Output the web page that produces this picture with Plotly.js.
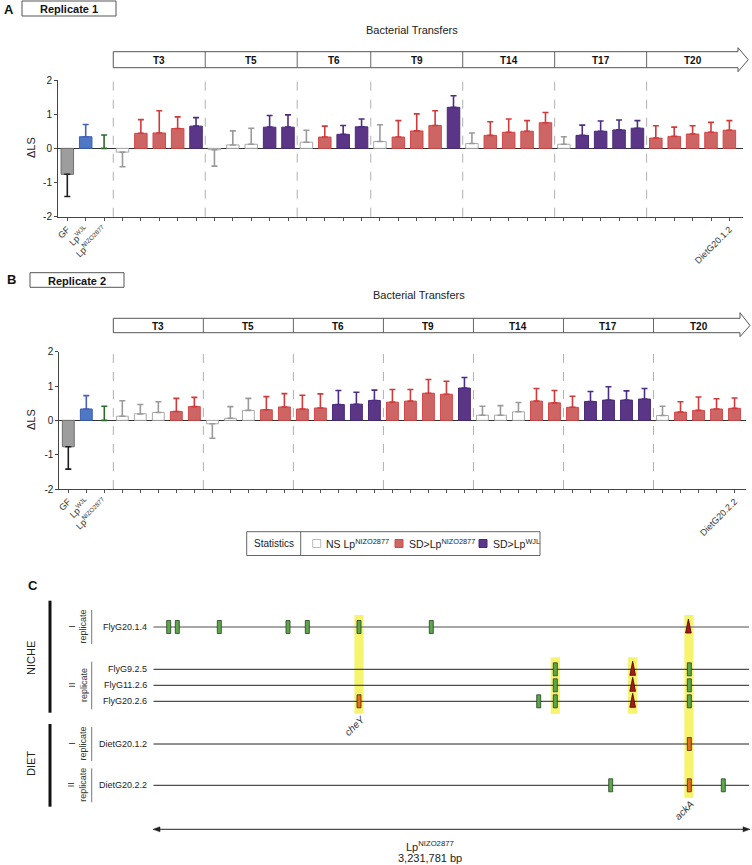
<!DOCTYPE html>
<html><head><meta charset="utf-8">
<script src="https://cdn.plot.ly/plotly-3.0.1.min.js"></script>
<style>html,body{margin:0;padding:0;background:#fff}#chart{width:752px;height:865px}</style>
</head><body><div id="chart"></div>
<script>
const W = 752, H = 865;
// ---------- data: panels A and B ----------
const transfers = ['T3','T5','T6','T9','T14','T17','T20'];
const controls = ['GF','Lp<sup>WJL</sup>','Lp<sup>NIZO2877</sup>'];
const countsA = [5,5,4,5,5,5,5];
const countsB = [5,5,5,5,5,5,5];
const valuesA = [
 -0.76, 0.34, 0,
 -0.11, 0.44, 0.45, 0.58, 0.65,
 -0.04, 0.10, 0.12, 0.62, 0.62,
  0.18, 0.33, 0.41, 0.63,
  0.20, 0.33, 0.51, 0.67, 1.20,
  0.14, 0.38, 0.47, 0.50, 0.75,
  0.12, 0.38, 0.50, 0.54, 0.59,
  0.30, 0.35, 0.42, 0.47, 0.53];
const errorsA = [
  0.65, 0.36, 0.39,
  0.43, 0.40, 0.65, 0.34, 0.25,
  0.48, 0.41, 0.47, 0.34, 0.36,
  0.35, 0.32, 0.26, 0.23,
  0.49, 0.48, 0.50, 0.43, 0.34,
  0.31, 0.40, 0.39, 0.31, 0.30,
  0.22, 0.30, 0.30, 0.29, 0.22,
  0.36, 0.27, 0.24, 0.29, 0.28];
const classesA = ['GF','WJL','NIZO',
 'NS','SDN','SDN','SDN','SDW',
 'NS','NS','NS','SDW','SDW',
 'NS','SDN','SDW','SDW',
 'NS','SDN','SDN','SDN','SDW',
 'NS','SDN','SDN','SDN','SDN',
 'NS','SDW','SDW','SDW','SDW',
 'SDN','SDN','SDN','SDN','SDN'];
const valuesB = [
 -0.77, 0.33, 0,
  0.12, 0.19, 0.23, 0.26, 0.40,
 -0.10, 0.06, 0.29, 0.31, 0.39,
  0.33, 0.36, 0.46, 0.47, 0.58,
  0.53, 0.56, 0.79, 0.76, 0.94,
  0.15, 0.15, 0.25, 0.56, 0.51,
  0.38, 0.55, 0.59, 0.59, 0.62,
  0.14, 0.24, 0.29, 0.33, 0.35];
const errorsB = [
  0.65, 0.39, 0.41,
  0.45, 0.27, 0.31, 0.38, 0.27,
  0.42, 0.34, 0.35, 0.38, 0.39,
  0.40, 0.41, 0.41, 0.35, 0.30,
  0.37, 0.34, 0.40, 0.38, 0.31,
  0.26, 0.28, 0.27, 0.37, 0.36,
  0.32, 0.29, 0.39, 0.27, 0.31,
  0.27, 0.30, 0.39, 0.30, 0.30];
const classesB = ['GF','WJL','NIZO',
 'NS','NS','NS','SDN','SDN',
 'NS','NS','NS','SDN','SDN',
 'SDN','SDN','SDW','SDW','SDW',
 'SDN','SDN','SDN','SDN','SDW',
 'NS','NS','NS','SDN','SDN',
 'SDN','SDW','SDW','SDW','SDW',
 'NS','SDN','SDN','SDN','SDN'];
const lastLabelA = 'DietG20.1.2';
const lastLabelB = 'DietG20.2.2';

// ---------- data: panel C ----------
const samples = ['FlyG20.1.4','FlyG9.2.5','FlyG11.2.6','FlyG20.2.6','DietG20.1.2','DietG20.2.2'];
const genomeLength = 3231781;
const mutSample = [0,0,0,0,0,0,0,0, 1,1,1, 2,2,2, 3,3,3,3,3, 4, 5,5,5];
const mutPos = [83500,130200,358100,730800,835500,1116000,1508200,2903000,
                2180900,2600800,2908000,
                2180900,2600800,2908000,
                1116000,2090900,2180900,2600800,2908000,
                2908000,
                2481500,2908000,3092400];
const mutType = ['snv','snv','snv','snv','snv','snv','snv','ins',
                 'snv','ins','snv',
                 'snv','ins','snv',
                 'fix','snv','snv','ins','snv',
                 'fix',
                 'snv','fix','snv'];
const hlPos = [1116000,2180900,2600800,2906000];
const hlFirst = [0,1,1,0];
const hlLast = [3,3,3,5];
const genes = ['cheY','ackA'];
const genePos = [1116000,2906000];
const geneCol = [0,3];
const legendItems = ['NS Lp<sup>NIZO2877</sup>','SD>Lp<sup>NIZO2877</sup>','SD>Lp<sup>WJL</sup>'];
const legendClasses = ['NS','SDN','SDW'];

// ---------- styles ----------
const FONT = 'Liberation Sans, Arial, sans-serif';
const style = {
  GF:  {fill:'#9d9d9d', line:'#6f6f6f', err:'#1e1e1e', lw:1},
  WJL: {fill:'#4e77c6', line:'#3c5fae', err:'#4a5fb8', lw:1},
  NIZO:{fill:'rgba(0,0,0,0)', line:'rgba(0,0,0,0)', err:'#2d6a2d', lw:0},
  NS:  {fill:'#ffffff', line:'#a8a8a8', err:'#9a9a9a', lw:1},
  SDN: {fill:'#cd6565', line:'#d44848', err:'#d03a3a', lw:1},
  SDW: {fill:'#5c3686', line:'#4a2a78', err:'#4d2c84', lw:1}
};
const mutStyle = {snv:{fill:'#5ea64c', line:'#23401f'}, fix:{fill:'#e0701f', line:'#4a2610'}, ins:{fill:'#b3141b', line:'#3a0808'}};
const rowY = [627, 669.3, 685.3, 701.3, 744, 785.3];

const panels = [
  {vals:valuesA, errs:errorsA, cls:classesA, counts:countsA, last:lastLabelA, xa:'x', ya:'y',
   xd:[58,743], yd:[80,216.7], range:[-0.506,36.74], bw:0.68,
   hdr:{top:51.7,bot:67.7,hTop:47.7,hBot:71.7,base:738,tip:748.3}, ttl:[412,29.5], dls:[31,148],
   letter:['A',9,9], rep:['Replicate 1',22,116,1,16]},
  {vals:valuesB, errs:errorsB, cls:classesB, counts:countsB, last:lastLabelB, xa:'x2', ya:'y2',
   xd:[59.3,745.7], yd:[351.7,489], range:[-0.5,37.62], bw:0.66,
   hdr:{top:318.3,bot:332.7,hTop:312.7,hBot:336.7,base:740,tip:750}, ttl:[419,294.5], dls:[31,420],
   letter:['B',11,279], rep:['Replicate 2',30,124,272.7,287.3]}
];

const traces = [];
const shapes = [];
const annotations = [];
const layout = {
  width:W, height:H, margin:{l:0,r:0,t:0,b:0}, paper_bgcolor:'#fff', plot_bgcolor:'rgba(0,0,0,0)',
  showlegend:false, barmode:'overlay', font:{family:FONT, color:'#222'},
  xaxis4:{domain:[0,1], range:[0,W], visible:false, fixedrange:true},
  yaxis4:{domain:[0,1], range:[H,0], visible:false, fixedrange:true, anchor:'x4'}
};
traces.push({type:'scatter', x:[], y:[], xaxis:'x4', yaxis:'y4', hoverinfo:'skip'});
const T = (x,y,text,o={}) => Object.assign({xref:'x4',yref:'y4',x:x,y:y,text:text,showarrow:false,
  font:{family:FONT,size:10,color:'#222'},xanchor:'center',yanchor:'middle'}, o);
const L = (x0,y0,x1,y1,color,width,dash) => ({type:'line',xref:'x4',yref:'y4',x0,y0,x1,y1,line:{color,width,dash:dash||'solid'}});

panels.forEach((p, pi) => {
  const n = p.vals.length;
  const sfx = pi === 0 ? '' : '2';
  const idx2px = i => p.xd[0] + (i - p.range[0]) / (p.range[1] - p.range[0]) * (p.xd[1] - p.xd[0]);
  Object.keys(style).forEach(c => {
    const xs=[], ys=[], up=[], dn=[];
    p.cls.forEach((k,i) => { if (k === c) { xs.push(i); ys.push(p.vals[i]);
      if (p.vals[i] < 0) { up.push(0); dn.push(p.errs[i]); } else { up.push(p.errs[i]); dn.push(0); } } });
    if (!xs.length) return;
    const s = style[c];
    traces.push({type:'bar', x:xs, y:ys, width:p.bw, xaxis:p.xa, yaxis:p.ya, hoverinfo:'skip',
      marker:{color:s.fill, line:{color:s.line, width:s.lw}},
      error_y:{type:'data', symmetric:false, array:up, arrayminus:dn, color:s.err, thickness:1.6, width:3}});
  });
  const tickvals = [], ticktext = [];
  for (let i=0;i<n;i++){ tickvals.push(i); ticktext.push(i<3 ? controls[i] : (i===n-1 ? p.last : ' ')); }
  layout['xaxis'+sfx] = {domain:[p.xd[0]/W, p.xd[1]/W], range:p.range, anchor:p.ya, showgrid:false, zeroline:false,
    showline:true, linecolor:'#444', linewidth:1, ticks:'outside', ticklen:3, tickcolor:'#555', tickwidth:1,
    tickvals:tickvals, ticktext:ticktext, tickangle:-45, tickfont:{family:FONT,size:9,color:'#333'}, fixedrange:true};
  layout['yaxis'+sfx] = {domain:[1-p.yd[1]/H, 1-p.yd[0]/H], range:[-2,2], anchor:p.xa, showgrid:false,
    zeroline:true, zerolinecolor:'#333', zerolinewidth:1, showline:true, linecolor:'#444', linewidth:1,
    ticks:'outside', ticklen:3, tickcolor:'#444', tickvals:[-2,-1,0,1,2], ticktext:['-2','-1','0','1','2'],
    tickfont:{family:FONT,size:10,color:'#222'}, fixedrange:true};
  let start = 3;
  const h = p.hdr;
  p.counts.forEach((c, g) => {
    const b = start - 0.5;
    shapes.push({type:'line', xref:p.xa, yref:p.ya+' domain', x0:b, x1:b, y0:0, y1:1, line:{color:'#b0b0b0', width:1, dash:'dash'}});
    if (g > 0) shapes.push({type:'line', xref:p.xa, yref:'y4', x0:b, x1:b, y0:h.top, y1:h.bot, line:{color:'#666', width:1}});
    annotations.push({xref:p.xa, yref:'y4', x:start+(c-1)/2, y:(h.top+h.bot)/2+0.5, text:'<b>'+transfers[g]+'</b>',
      showarrow:false, font:{family:FONT,size:10,color:'#111'}, xanchor:'center', yanchor:'middle'});
    start += c;
  });
  const left = idx2px(2.5), mid = (h.top+h.bot)/2;
  shapes.push({type:'path', xref:'x4', yref:'y4', line:{color:'#555', width:1}, fillcolor:'rgba(0,0,0,0)',
    path:`M${left},${h.top} L${h.base},${h.top} L${h.base},${h.hTop} L${h.tip},${mid} L${h.base},${h.hBot} L${h.base},${h.bot} L${left},${h.bot} Z`});
  annotations.push(T(p.ttl[0], p.ttl[1], 'Bacterial Transfers', {font:{family:FONT,size:11,color:'#222'}}));
  annotations.push(T(p.dls[0], p.dls[1], 'ΔLS', {textangle:-90, font:{family:FONT,size:11,color:'#222'}}));
  annotations.push(T(p.letter[1], p.letter[2], '<b>'+p.letter[0]+'</b>', {font:{family:FONT,size:13,color:'#111'}}));
  const r = p.rep;
  shapes.push({type:'rect', xref:'x4', yref:'y4', x0:r[1], x1:r[2], y0:r[3], y1:r[4], line:{color:'#555', width:1}, fillcolor:'#fff'});
  annotations.push(T((r[1]+r[2])/2, (r[3]+r[4])/2+0.5, '<b>'+r[0]+'</b>', {font:{family:FONT,size:11,color:'#111'}}));
});

// ---------- legend ----------
shapes.push({type:'rect', xref:'x4', yref:'y4', x0:246.7, x1:540, y0:531.7, y1:555.5, line:{color:'#666', width:1}, fillcolor:'#fff'});
shapes.push(L(300.7,531.7,300.7,555.5,'#666',1));
annotations.push(T(273.7, 543.6, 'Statistics', {font:{family:FONT,size:10,color:'#222'}}));
const legX = [312.7, 395, 479];
legendItems.forEach((t,i) => {
  const s = style[legendClasses[i]];
  shapes.push({type:'rect', xref:'x4', yref:'y4', x0:legX[i], x1:legX[i]+8, y0:539.5, y1:547.5,
    line:{color: legendClasses[i]==='NS' ? '#bbb' : s.line, width:1}, fillcolor:s.fill});
  annotations.push(T(legX[i]+11.5, 543.6, t, {xanchor:'left', font:{family:FONT,size:10.5,color:'#222'}}));
});

// ---------- panel C ----------
layout.xaxis3 = {domain:[153.3/W, 749/W], range:[0, genomeLength], visible:false, fixedrange:true, anchor:'y3'};
layout.yaxis3 = {domain:[0,1], range:[H,0], visible:false, fixedrange:true, anchor:'x3'};
samples.forEach((s,i) => {
  traces.push({type:'scatter', mode:'lines', x:[0, genomeLength], y:[rowY[i], rowY[i]], xaxis:'x3', yaxis:'y3',
    hoverinfo:'skip', line:{color: i===0 ? '#888' : '#222', width: i===0 ? 1.6 : 1}});
  annotations.push(T(149, rowY[i], s, {xanchor:'right', font:{family:FONT,size:9,color:'#222'}}));
});
hlPos.forEach((x,i) => {
  shapes.push({type:'rect', layer:'below', xref:'x3', yref:'y3', xsizemode:'pixel', xanchor:x, x0:-4.6, x1:4.6,
    y0:rowY[hlFirst[i]]-12, y1:rowY[hlLast[i]]+12.5, line:{width:0}, fillcolor:'#f6f36c'});
});
mutPos.forEach((x,i) => {
  const st = mutStyle[mutType[i]];
  const base = {xref:'x3', yref:'y3', xsizemode:'pixel', ysizemode:'pixel', xanchor:x, yanchor:rowY[mutSample[i]],
    fillcolor:st.fill, line:{color:st.line, width:0.8}};
  if (mutType[i] === 'ins') shapes.push(Object.assign(base, {type:'path', path:'M0,8 L2.8,-6 L-2.8,-6 Z'}));
  else shapes.push(Object.assign(base, {type:'rect', x0:-2, x1:2, y0:-6.5, y1:6.5}));
});
genes.forEach((g,i) => {
  const c = geneCol[i];
  annotations.push({xref:'x3', yref:'y3', x:genePos[i], y:rowY[hlLast[c]]+12.5+12, text:'<i>'+g+'</i>', showarrow:false,
    textangle:-45, xshift:-4, font:{family:FONT,size:10,color:'#333'}, xanchor:'center', yanchor:'middle'});
});
shapes.push(L(50,600.7,50,712.7,'#111',3));
shapes.push(L(50,724,50,806.7,'#111',3));
annotations.push(T(31, 658, 'NICHE', {textangle:-90, font:{family:FONT,size:11,color:'#222'}}));
annotations.push(T(31, 764, 'DIET', {textangle:-90, font:{family:FONT,size:11,color:'#222'}}));
const repGroups = [[0,0,'I'],[1,3,'II'],[4,4,'I'],[5,5,'II']];
repGroups.forEach(r => {
  const single = r[0]===r[1];
  const y0 = single ? rowY[r[0]]-17 : rowY[r[0]]-7.6;
  const y1 = single ? rowY[r[1]]+17 : rowY[r[1]]+8;
  shapes.push(L(91.7,y0,91.7,y1,'#777',1));
  annotations.push(T(77.5, (y0+y1)/2, r[2]+'<br>replicate', {textangle:-90, font:{family:FONT,size:9,color:'#333'}}));
});
annotations.push(T(33, 585, '<b>C</b>', {font:{family:FONT,size:13,color:'#111'}}));
shapes.push(L(157,829.3,746,829.3,'#222',1));
shapes.push({type:'path', xref:'x4', yref:'y4', path:'M153,829.3 L160,826.8 L160,831.8 Z', fillcolor:'#222', line:{color:'#222',width:0.5}});
shapes.push({type:'path', xref:'x4', yref:'y4', path:'M750,829.3 L743,826.8 L743,831.8 Z', fillcolor:'#222', line:{color:'#222',width:0.5}});
annotations.push(T(430, 845.5, 'Lp<sup>NIZO2877</sup>', {font:{family:FONT,size:11,color:'#222'}}));
annotations.push(T(430, 858, '3,231,781 bp', {font:{family:FONT,size:11,color:'#222'}}));

layout.shapes = shapes;
layout.annotations = annotations;
Plotly.newPlot('chart', traces, layout, {staticPlot:true, displayModeBar:false});
</script>
</body></html>
